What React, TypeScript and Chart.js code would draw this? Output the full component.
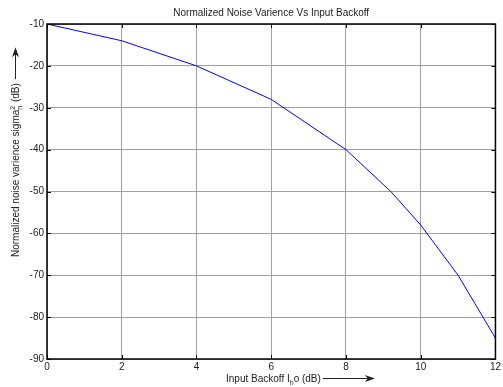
import React, { useEffect, useRef } from "react";
import { Chart, registerables } from "chart.js";

Chart.register(...registerables);

const inputBackoff = [0, 2, 4, 6, 8, 9.2, 10, 11, 12];
const noiseVariance = [-10, -14, -20, -28, -40, -50, -58, -70, -85];
const xTicks = [0, 2, 4, 6, 8, 10, 12];
const yTicks = [-90, -80, -70, -60, -50, -40, -30, -20, -10];
const titleText = "Normalized Noise Varience Vs Input Backoff";

const FONT = "Liberation Sans, Arial, sans-serif";

const decorPlugin = {
  id: "decor",
  afterDraw(chart: any) {
    const ctx = chart.ctx as CanvasRenderingContext2D;
    const a = chart.chartArea;
    ctx.save();
    ctx.strokeStyle = "#000";
    ctx.lineWidth = 1.5;
    ctx.strokeRect(a.left, a.top, a.right - a.left, a.bottom - a.top);
    ctx.lineWidth = 1;
    const xs = chart.scales.x;
    const ys = chart.scales.y;
    for (const t of xTicks) {
      const px = Math.round(xs.getPixelForValue(t)) + 0.5;
      ctx.beginPath();
      ctx.moveTo(px, a.top); ctx.lineTo(px, a.top + 4);
      ctx.moveTo(px, a.bottom); ctx.lineTo(px, a.bottom - 4);
      ctx.stroke();
    }
    for (const t of yTicks) {
      const py = Math.round(ys.getPixelForValue(t)) + 0.5;
      ctx.beginPath();
      ctx.moveTo(a.left, py); ctx.lineTo(a.left + 4, py);
      ctx.moveTo(a.right, py); ctx.lineTo(a.right - 4, py);
      ctx.stroke();
    }
    ctx.fillStyle = "#222";
    ctx.strokeStyle = "#222";
    ctx.font = `10px ${FONT}`;
    ctx.textAlign = "center";
    ctx.textBaseline = "middle";
    ctx.fillText(titleText, (a.left + a.right) / 2, 13);

    ctx.textAlign = "left";
    ctx.textBaseline = "alphabetic";
    let x = 226;
    const yb = 382;
    const p1 = "Input Backoff I";
    ctx.font = `10px ${FONT}`;
    ctx.fillText(p1, x, yb);
    x += ctx.measureText(p1).width;
    ctx.font = `7px ${FONT}`;
    ctx.fillText("h", x, yb + 3);
    x += ctx.measureText("h").width;
    ctx.font = `10px ${FONT}`;
    const p2 = "o (dB)";
    ctx.fillText(p2, x, yb);
    x += ctx.measureText(p2).width + 2;
    ctx.lineWidth = 1;
    ctx.beginPath();
    ctx.moveTo(x, yb - 3.5);
    ctx.lineTo(x + 48, yb - 3.5);
    ctx.stroke();
    ctx.beginPath();
    ctx.moveTo(x + 52, yb - 3.5);
    ctx.lineTo(x + 42, yb - 7);
    ctx.lineTo(x + 45, yb - 3.5);
    ctx.lineTo(x + 42, yb);
    ctx.closePath();
    ctx.fill();

    ctx.save();
    ctx.translate(19, 257);
    ctx.rotate(-Math.PI / 2);
    let u = 0;
    const q1 = "Normalized noise varience sigma";
    ctx.font = `10px ${FONT}`;
    ctx.fillText(q1, u, 0);
    u += ctx.measureText(q1).width;
    ctx.font = `7px ${FONT}`;
    ctx.fillText("2", u, -4);
    ctx.fillText("n", u, 3);
    u += ctx.measureText("n").width + 1;
    ctx.font = `10px ${FONT}`;
    const q2 = " (dB)";
    ctx.fillText(q2, u, 0);
    u += ctx.measureText(q2).width + 4;
    ctx.beginPath();
    ctx.moveTo(u, -3.5);
    ctx.lineTo(u + 28, -3.5);
    ctx.stroke();
    ctx.beginPath();
    ctx.moveTo(u + 32, -3.5);
    ctx.lineTo(u + 22, -7);
    ctx.lineTo(u + 25, -3.5);
    ctx.lineTo(u + 22, 0);
    ctx.closePath();
    ctx.fill();
    ctx.restore();

    ctx.restore();
  },
};

export default function App() {
  const ref = useRef<HTMLCanvasElement | null>(null);
  useEffect(() => {
    if (!ref.current) return;
    const chart = new Chart(ref.current, {
      type: "line",
      data: {
        datasets: [
          {
            data: inputBackoff.map((v, i) => ({ x: v, y: noiseVariance[i] })),
            borderColor: "#0000ff",
            borderWidth: 1,
            pointRadius: 0,
            fill: false,
            tension: 0,
          },
        ],
      },
      options: {
        animation: false,
        responsive: false,
        devicePixelRatio: 1,
        layout: { padding: { top: 24, right: 5, left: 0, bottom: 0 } },
        plugins: { legend: { display: false }, tooltip: { enabled: false }, title: { display: false } },
        scales: {
          x: {
            type: "linear",
            min: 0,
            max: 12,
            afterBuildTicks: (s: any) => { s.ticks = xTicks.map((v) => ({ value: v })); },
            afterFit: (s: any) => { s.height = 28; },
            ticks: { color: "#222", font: { size: 10, family: FONT }, padding: 2, maxRotation: 0, autoSkip: false },
            grid: { color: "#a0a0a0", lineWidth: 1, drawTicks: false },
            border: { display: false },
          },
          y: {
            type: "linear",
            min: -90,
            max: -10,
            afterBuildTicks: (s: any) => { s.ticks = yTicks.map((v) => ({ value: v })); },
            afterFit: (s: any) => { s.width = 47; },
            ticks: { color: "#222", font: { size: 10, family: FONT }, padding: 3, autoSkip: false },
            grid: { color: "#a0a0a0", lineWidth: 1, drawTicks: false },
            border: { display: false },
          },
        },
      },
      plugins: [decorPlugin],
    } as any);
    return () => chart.destroy();
  }, []);
  return (
    <div style={{ position: "fixed", left: 0, top: 0, width: 503, height: 387, background: "#fff" }}>
      <canvas ref={ref} width={503} height={387} style={{ display: "block" }} />
    </div>
  );
}
